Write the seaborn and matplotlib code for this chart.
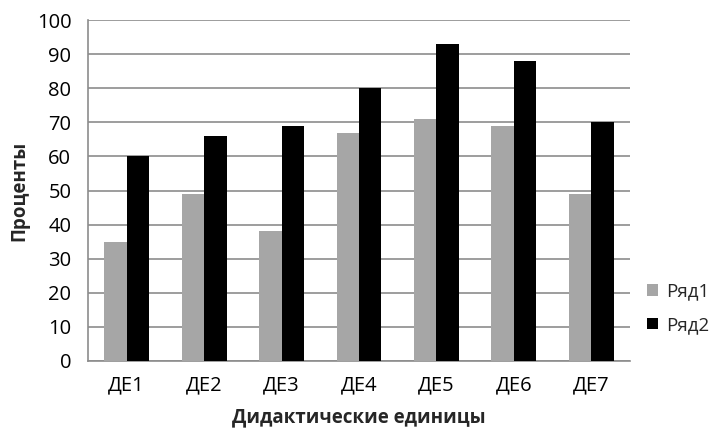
import matplotlib
matplotlib.use("Agg")
import matplotlib.pyplot as plt
import seaborn as sns
import pandas as pd

categories = ["ДЕ1", "ДЕ2", "ДЕ3", "ДЕ4", "ДЕ5", "ДЕ6", "ДЕ7"]
series_names = ["Ряд1", "Ряд2"]
row1 = [35, 49, 38, 67, 71, 69, 49]
row2 = [60, 66, 69, 80, 93, 88, 70]
y_ticks = [0, 10, 20, 30, 40, 50, 60, 70, 80, 90, 100]

df = pd.DataFrame({
    "cat": categories * 2,
    "series": [series_names[0]] * len(categories) + [series_names[1]] * len(categories),
    "value": row1 + row2,
})

sns.set_theme(style="white")
plt.rcParams["font.family"] = ["Open Sans", "DejaVu Sans"]

fig = plt.figure(figsize=(7.26, 4.29), dpi=100)
ax = fig.add_axes([88 / 726, 1 - 361 / 429, (630 - 88) / 726, (361 - 20) / 429])

palette = {"Ряд1": "#A6A6A6", "Ряд2": "#000000"}
sns.barplot(data=df, x="cat", y="value", hue="series", palette=palette,
            width=0.58, saturation=1, linewidth=0, ax=ax, legend=True, zorder=3)

ax.set_ylim(0, 100)
ax.set_yticks(y_ticks)
ax.set_xlim(-0.5, len(categories) - 0.5)
ax.yaxis.grid(True, color="#8c8c8c", linewidth=1.2, zorder=0)
ax.set_axisbelow(True)

for side in ["top", "right"]:
    ax.spines[side].set_visible(False)
for side in ["left", "bottom"]:
    ax.spines[side].set_color("#8c8c8c")
    ax.spines[side].set_linewidth(1.2)

ax.tick_params(axis="both", length=0, labelsize=14.5, colors="#000000")
ax.tick_params(axis="y", pad=12)
ax.tick_params(axis="x", pad=10)

ax.set_xlabel("Дидактические единицы", fontsize=13.5, fontweight="bold", labelpad=9)
ax.set_ylabel("Проценты", fontsize=13.5, fontweight="bold", labelpad=5)

handles, labels = ax.get_legend_handles_labels()
ax.legend(handles, labels, loc="center left", bbox_to_anchor=(1.0, 0.155),
          frameon=False, fontsize=13.5, handlelength=0.6, handleheight=0.6,
          handletextpad=0.4, labelspacing=0.85)

fig.savefig("out.png", dpi=100)
